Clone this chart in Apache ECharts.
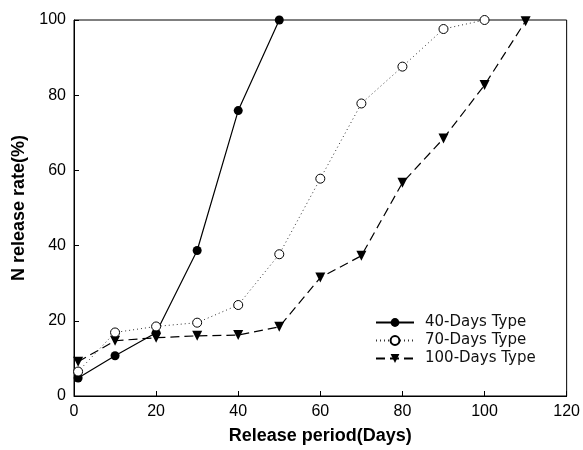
<!DOCTYPE html>
<html>
<head>
<meta charset="utf-8">
<style>
  html, body { margin: 0; padding: 0; background: #fff; }
  #main { width: 583px; height: 450px; }
</style>
<script src="https://cdn.jsdelivr.net/npm/echarts@6/dist/echarts.min.js"></script>
</head>
<body>
<div id="main"></div>
<script>
// release period (days)
var days40 = [1, 10, 20, 30, 40, 50];
var days70 = [1, 10, 20, 30, 40, 50, 60, 70, 80, 90, 100];
var days100 = [1, 10, 20, 30, 40, 50, 60, 70, 80, 90, 100, 110];

// N release rate (%)
var rate40 = [4.8, 10.7, 16.8, 38.7, 75.9, 100];
var rate70 = [6.5, 16.9, 18.5, 19.5, 24.2, 37.7, 57.8, 77.8, 87.6, 97.6, 100];
var rate100 = [9.1, 14.7, 15.5, 16.0, 16.2, 18.4, 31.5, 37.3, 56.7, 68.5, 82.7, 99.7];

var seriesNames = ['40-Days Type', '70-Days Type', '100-Days Type'];

function pairs(xs, ys) {
  return xs.map(function (x, i) { return [x, ys[i]]; });
}

var font = 'Liberation Sans, Arial, sans-serif';

var myChart = echarts.init(document.getElementById('main'));
myChart.setOption({
  animation: false,
  grid: {
    left: 74,
    right: 16,
    top: 20,
    bottom: 53,
    show: true,
    borderColor: '#000',
    borderWidth: 1
  },
  legend: {
    orient: 'vertical',
    left: 370,
    top: 310,
    itemWidth: 38,
    itemHeight: 11,
    itemGap: 3,
    data: seriesNames,
    textStyle: {
      fontFamily: 'DejaVu Sans, sans-serif',
      fontSize: 15,
      color: '#111',
      padding: [0, 0, 0, 6]
    }
  },
  xAxis: {
    type: 'value',
    min: 0,
    max: 120,
    interval: 20,
    name: 'Release period(Days)',
    nameLocation: 'middle',
    nameGap: 31,
    nameTextStyle: {
      fontFamily: font,
      fontWeight: 'bold',
      fontSize: 18,
      color: '#000'
    },
    axisLine: { lineStyle: { color: '#000', width: 1 } },
    axisTick: { inside: true, length: 5, lineStyle: { color: '#000' } },
    axisLabel: { fontFamily: font, fontSize: 16, color: '#000', margin: 8 },
    splitLine: { show: false }
  },
  yAxis: {
    type: 'value',
    min: 0,
    max: 100,
    interval: 20,
    name: 'N release rate(%)',
    nameLocation: 'middle',
    nameGap: 46,
    nameTextStyle: {
      fontFamily: font,
      fontWeight: 'bold',
      fontSize: 18,
      color: '#000'
    },
    axisLine: { show: true, lineStyle: { color: '#000', width: 1 } },
    axisTick: { show: true, inside: true, length: 5, lineStyle: { color: '#000' } },
    axisLabel: { fontFamily: font, fontSize: 16, color: '#000', margin: 8 },
    splitLine: { show: false }
  },
  series: [{
    name: seriesNames[0],
    type: 'line',
    data: pairs(days40, rate40),
    symbol: 'circle',
    symbolSize: 9,
    itemStyle: { color: '#000' },
    lineStyle: { color: '#000', width: 1.2, type: 'solid' },
    z: 3
  }, {
    name: seriesNames[1],
    type: 'line',
    data: pairs(days70, rate70),
    symbol: 'circle',
    symbolSize: 9,
    itemStyle: { color: '#fff', borderColor: '#000', borderWidth: 1 },
    lineStyle: { color: '#333', width: 1, type: [1, 3] },
    z: 4
  }, {
    name: seriesNames[2],
    type: 'line',
    data: pairs(days100, rate100),
    symbol: 'triangle',
    symbolRotate: 180,
    symbolSize: 10,
    itemStyle: { color: '#000' },
    lineStyle: { color: '#000', width: 1.2, type: [9, 5] },
    z: 2
  }]
});
</script>
</body>
</html>
